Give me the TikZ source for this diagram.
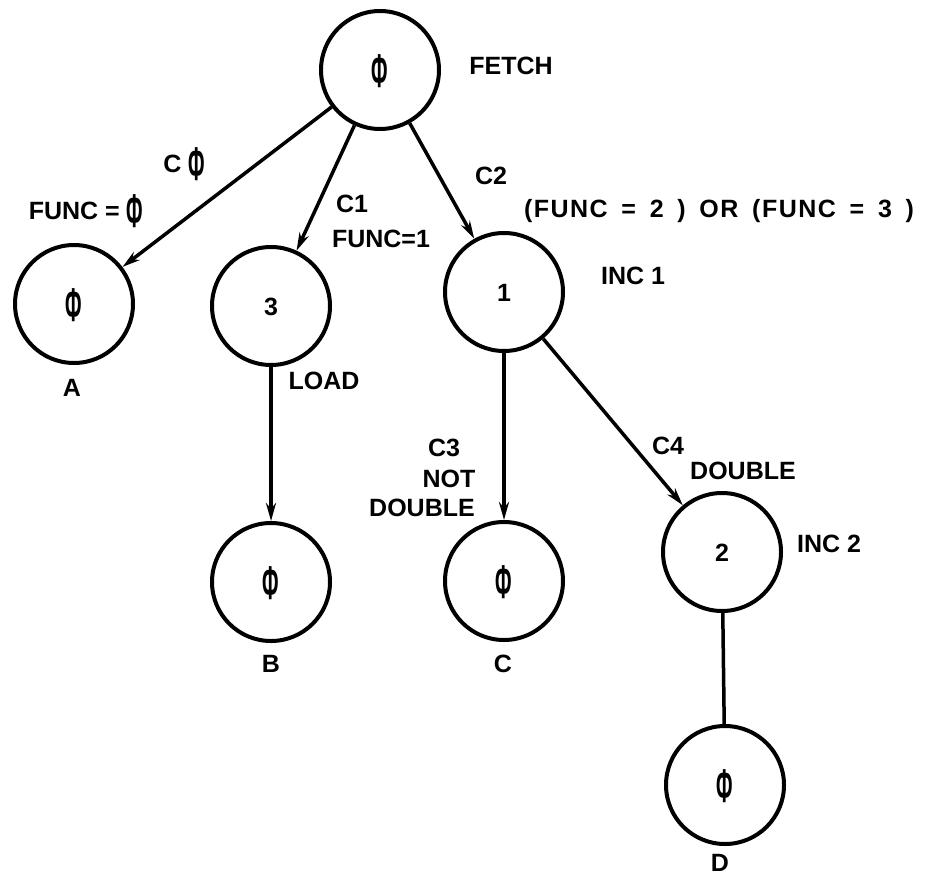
\documentclass[tikz,border=0pt]{standalone}
\usepackage{fontspec}
\setmainfont{Liberation Sans}
\usetikzlibrary{arrows.meta}
\newcommand\zr{\raisebox{-0.32em}{\scalebox{0.8}[1.9]{Φ}}}
\begin{document}
\begin{tikzpicture}[x=1pt,y=-1pt,
  state/.style={circle,draw,line width=4pt,minimum size=118pt,inner sep=0pt,
    text height=18pt,text depth=0pt,font=\fontsize{25}{28}\selectfont\bfseries},
  lbl/.style={inner sep=0pt,text height=18pt,text depth=0pt,font=\fontsize{25}{28}\selectfont\bfseries},
  conn/.style={line width=3.5pt},
  arr/.style={conn,-{Stealth[length=18pt,width=10pt]}}]
\useasboundingbox (0,0) rectangle (929,878);
\node[state] (f) at (380,70) {\zr};
\node[state] (a) at (74,304) {\zr};
\node[state] (s3) at (271,306) {3};
\node[state] (s1) at (504,292) {1};
\node[state] (b) at (271,582) {\zr};
\node[state] (c) at (504,581) {\zr};
\node[state] (s2) at (722,552) {2};
\node[state] (d) at (725,785) {\zr};
\draw[arr] (f) -- (a);
\draw[arr] (f) -- (s3);
\draw[arr] (f) -- (s1);
\draw[arr] (s3) -- (b);
\draw[arr] (s1) -- (c);
\draw[arr] (s1) -- (s2);
\draw[conn] (s2) -- (d);
\node[lbl] (tfetch) at (511,65) {FETCH};
\node[lbl] (tc0) at (184,163) {C \zr};
\node[lbl] (tf0) at (86,210) {FUNC = \zr};
\node[lbl] (tc1) at (352,203) {C1};
\node[lbl] (tf1) at (381,238) {FUNC=1};
\node[lbl] (tc2) at (491,175) {C2};
\node[lbl] (tf23) at (719,208) {\addfontfeature{LetterSpace=6}\makebox[390pt][s]{(FUNC = 2 ) OR (FUNC = 3 )}};
\node[lbl] (tinc1) at (633,275) {INC 1};
\node[lbl] (tload) at (324,380) {LOAD};
\node[lbl] (ta) at (72,387) {A};
\node[lbl] (tb) at (271,663) {B};
\node[lbl] (tc) at (503,663) {C};
\node[lbl] (td) at (720,862) {D};
\node[lbl] (tc3) at (444,447) {C3};
\node[lbl] (tnot) at (449,478) {NOT};
\node[lbl] (tdbl1) at (422,507) {DOUBLE};
\node[lbl] (tc4) at (668,445) {C4};
\node[lbl] (tdbl2) at (743,470) {DOUBLE};
\node[lbl] (tinc2) at (829,543) {INC 2};
\end{tikzpicture}
\end{document}
